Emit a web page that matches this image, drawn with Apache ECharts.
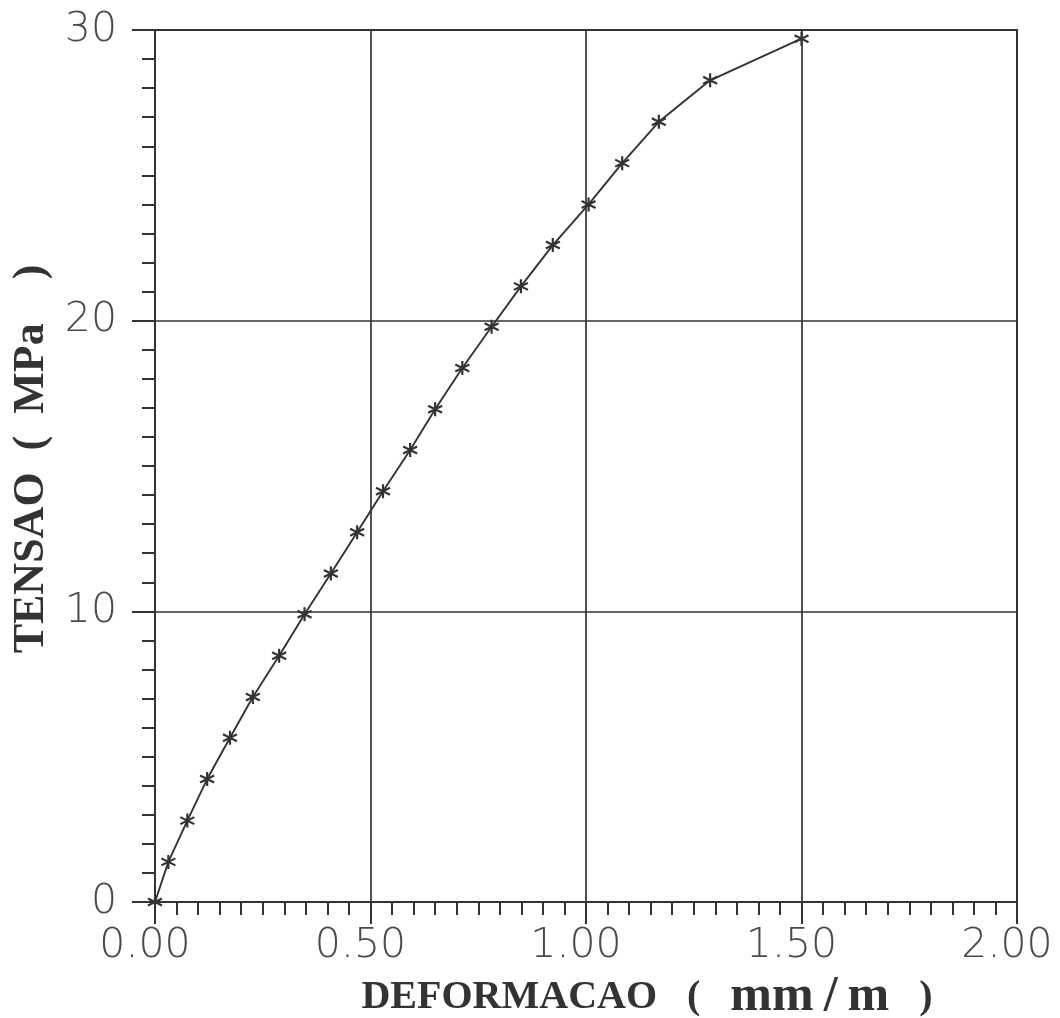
<!DOCTYPE html>
<html>
<head>
<meta charset="utf-8">
<title>Tensao x Deformacao</title>
<script src="https://cdn.jsdelivr.net/npm/echarts@6/dist/echarts.min.js"></script>
<style>
  html, body { margin: 0; padding: 0; background: #ffffff; }
  #chart { width: 1060px; height: 1018px; }
</style>
</head>
<body>
<div id="chart"></div>
<script>
// Strain readings (mm/m)
const deformacao = [0, 0.031, 0.075, 0.121, 0.174, 0.227, 0.288, 0.347, 0.408, 0.469, 0.529,
  0.592, 0.650, 0.713, 0.781, 0.849, 0.923, 1.006, 1.084, 1.169, 1.288, 1.50];
// Stress readings (MPa)
const tensao = [0, 1.38, 2.80, 4.23, 5.65, 7.05, 8.47, 9.90, 11.30, 12.72, 14.13,
  15.55, 16.95, 18.37, 19.79, 21.18, 22.60, 24.00, 25.42, 26.84, 28.27, 29.70];

// Axis ranges and tick steps
const xRange = [0, 2];
const xStep = 0.5;
const yRange = [0, 30];
const yStep = 10;

const ink = '#333333';
const labelInk = '#4a4a4a';

const points = deformacao.map((d, i) => [d, tensao[i]]);

const chart = echarts.init(document.getElementById('chart'), null, { renderer: 'canvas' });

const tickLabel = {
  fontFamily: 'DejaVu Sans',
  fontWeight: 200,
  fontSize: 41,
  color: labelInk
};

const titleFont = {
  fontFamily: 'Liberation Serif',
  fontWeight: 'bold',
  color: ink
};

chart.setOption({
  animation: false,
  backgroundColor: '#ffffff',
  grid: {
    left: 155, right: 43, top: 30, bottom: 116,
    outerBoundsMode: 'none',
    containLabel: false,
    show: true,
    borderColor: ink,
    borderWidth: 2,
    backgroundColor: 'transparent'
  },
  xAxis: {
    type: 'value',
    min: xRange[0], max: xRange[1], interval: xStep,
    axisLine: { show: true, onZero: false, lineStyle: { color: ink, width: 2 } },
    axisTick: { show: true, length: 22, lineStyle: { color: ink, width: 2 } },
    minorTick: { show: true, splitNumber: 10, length: 13, lineStyle: { color: ink, width: 2 } },
    splitLine: { show: true, lineStyle: { color: ink, width: 1.7 } },
    axisLabel: Object.assign({
      margin: 24,
      padding: [0, 20, 0, 0],
      formatter: v => v.toFixed(2)
    }, tickLabel),
    name: 'DEFORMACAO   (   {m|mm\u2009/\u2009m}   )',
    nameLocation: 'middle',
    nameGap: 70,
    nameTextStyle: Object.assign({
      fontSize: 40,
      lineHeight: 40,
      verticalAlign: 'bottom',
      padding: [0, 0, 0, 122],
      rich: {
        m: Object.assign({ fontSize: 50, lineHeight: 49, verticalAlign: 'bottom' }, titleFont)
      }
    }, titleFont)
  },
  yAxis: {
    type: 'value',
    min: yRange[0], max: yRange[1], interval: yStep,
    axisLine: { show: true, onZero: false, lineStyle: { color: ink, width: 2 } },
    axisTick: { show: true, length: 23, lineStyle: { color: ink, width: 2 } },
    minorTick: { show: true, splitNumber: 10, length: 13, lineStyle: { color: ink, width: 2 } },
    splitLine: { show: true, lineStyle: { color: ink, width: 1.7 } },
    axisLabel: Object.assign({ margin: 38 }, tickLabel),
    name: 'TENSAO  (  MPa    )',
    nameLocation: 'middle',
    nameGap: 91,
    nameTextStyle: Object.assign({
      fontSize: 44,
      padding: [0, 0, 0, 14]
    }, titleFont)
  },
  series: [{
    type: 'line',
    data: points,
    smooth: false,
    symbol: 'path://M6,0L6,12M0.8,3L11.2,9M0.8,9L11.2,3',
    symbolSize: 14,
    showAllSymbol: true,
    itemStyle: { color: ink, borderColor: ink, borderWidth: 2.2 },
    lineStyle: { color: ink, width: 1.9 },
    emphasis: { disabled: true },
    z: 5
  }]
});
</script>
</body>
</html>
